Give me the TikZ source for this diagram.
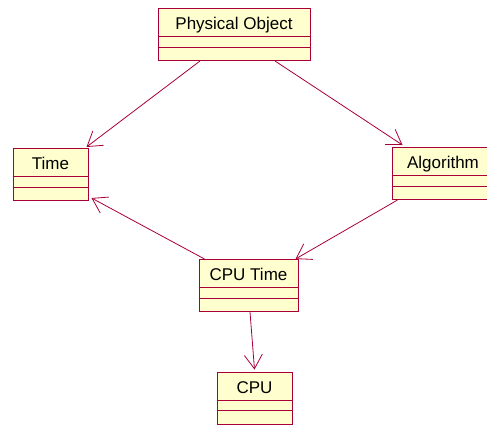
\documentclass[tikz,border=0pt]{standalone}
\usepackage{fontspec}
\setmainfont{Liberation Sans}
\usetikzlibrary{arrows.meta}
\definecolor{umlred}{HTML}{A80036}
\definecolor{umlyellow}{HTML}{FEFECE}

\begin{document}
\begin{tikzpicture}[x=1pt,y=-1pt,
  classbox/.style={draw=umlred, fill=umlyellow, line width=1pt, minimum height=52pt, inner sep=0pt, anchor=north},
  classname/.style={font=\fontsize{17}{20}\selectfont, anchor=base, inner sep=0pt},
  assoc/.style={draw=umlred, line width=0.8pt, -{Straight Barb[length=14pt,width=18pt]}}]

\useasboundingbox (0,0) rectangle (487,424);
\clip (0,0) rectangle (487,424);

% Class boxes
\node[classbox, minimum width=152pt] (po) at (234,8) {};
\node[classbox, minimum width=75pt] (time) at (50.5,148) {};
\node[classbox, minimum width=102pt] (alg) at (443,147) {};
\node[classbox, minimum width=99pt] (cput) at (248.5,259) {};
\node[classbox, minimum width=75pt] (cpu) at (254.5,371.5) {};

% Compartments
\foreach \c in {po,time,alg,cput,cpu}
{
    \draw[umlred, line width=0.8pt] ([yshift=-28.5pt]\c.north west) -- ([yshift=-28.5pt]\c.north east);
    \draw[umlred, line width=0.8pt] ([yshift=-39pt]\c.north west) -- ([yshift=-39pt]\c.north east);
}

% Class names
\node[classname] (poname) at ([yshift=-21.5pt]po.north) {Physical Object};
\node[classname] (timename) at ([yshift=-21.5pt]time.north) {Time};
\node[classname] (algname) at ([yshift=-21.5pt]alg.north) {Algorithm};
\node[classname] (cputname) at ([yshift=-21.5pt]cput.north) {CPU Time};
\node[classname] (cpuname) at ([yshift=-21.5pt]cpu.north) {CPU};

% Associations
\draw[assoc] ([xshift=-34pt]po.south) -- ([xshift=-2pt,yshift=1pt]time.north east);
\draw[assoc] ([xshift=41pt]po.south) -- ([xshift=11pt,yshift=2pt]alg.north west);
\draw[assoc] ([xshift=6pt]cput.north west) -- ([xshift=3pt,yshift=3pt]time.south east);
\draw[assoc] ([xshift=6pt]alg.south west) -- ([xshift=-3pt]cput.north east);
\draw[assoc] ([xshift=1.5pt]cput.south) -- ([yshift=2pt]cpu.north);

\end{tikzpicture}
\end{document}
